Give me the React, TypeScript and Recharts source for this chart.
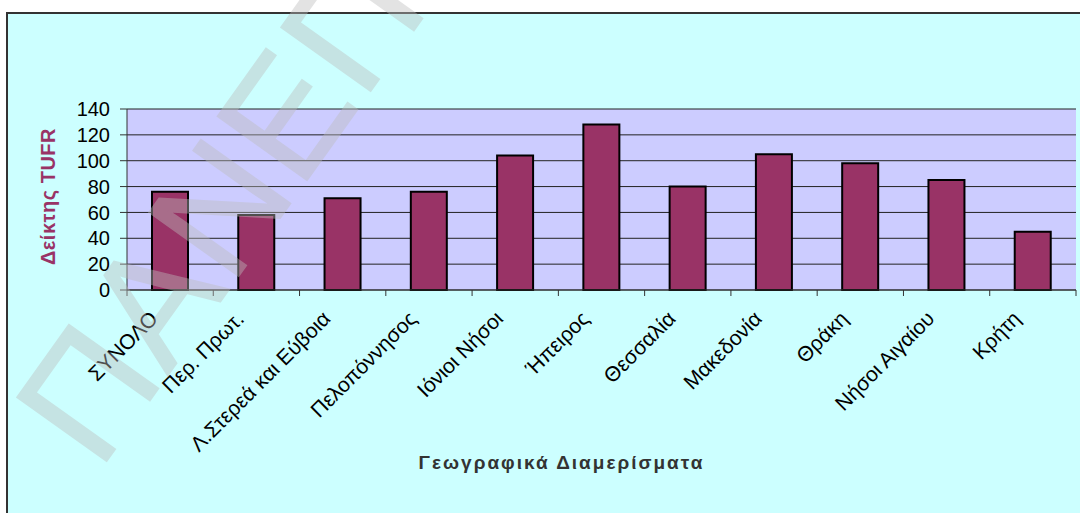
import { Bar, BarChart, CartesianGrid, XAxis, YAxis } from "recharts";

const categories = [
  "ΣΥΝΟΛΟ",
  "Περ. Πρωτ.",
  "Λ.Στερεά και Εύβοια",
  "Πελοπόννησος",
  "Ιόνιοι Νήσοι",
  "Ήπειρος",
  "Θεσσαλία",
  "Μακεδονία",
  "Θράκη",
  "Νήσοι Αιγαίου",
  "Κρήτη",
];
const tufr = [76, 58, 71, 76, 104, 128, 80, 105, 98, 85, 45];
const yTicks = [0, 20, 40, 60, 80, 100, 120, 140];

const xTitle = "Γεωγραφικά Διαμερίσματα";
const yTitle = "Δείκτης TUFR";
const watermark = "ΠΑΝΕΠΙΣΤΗΜΙΟ";

const FONT = "'Liberation Sans', Arial, sans-serif";
const BAR = "#993366";
const PLOT_BG = "#CCCCFF";
const CHART_BG = "#CCFFFF";

const data = categories.map((name, i) => ({ name, value: tufr[i] }));

function CategoryTick(props: any) {
  const { x, y, payload, index } = props;
  const half = payload?.offset ?? 949 / 22;
  return (
    <g>
      <line x1={x - half} x2={x - half} y1={y} y2={y + 6} stroke="#333" />
      {index === categories.length - 1 && (
        <line x1={x + half} x2={x + half} y1={y} y2={y + 6} stroke="#333" />
      )}
      <text
        transform={`translate(${x - 11},${y + 30}) rotate(-45)`}
        textAnchor="end"
        fontFamily={FONT}
        fontSize={21}
        fill="#000"
      >
        {payload.value}
      </text>
    </g>
  );
}

export default function App() {
  return (
    <div
      style={{
        position: "absolute",
        left: 0,
        top: 0,
        width: 1080,
        height: 513,
        background: "#fff",
        overflow: "hidden",
        fontFamily: FONT,
      }}
    >
      <div
        style={{
          position: "absolute",
          left: 6,
          top: 12,
          width: 1100,
          height: 520,
          border: "2px solid #333",
          background: CHART_BG,
        }}
      />
      <div style={{ position: "absolute", left: 0, top: 0 }}>
        <BarChart
          width={1080}
          height={513}
          data={data}
          margin={{ top: 109, right: 4, left: 67, bottom: 23 }}
        >
          <CartesianGrid
            vertical={false}
            stroke="#222"
            fill={PLOT_BG}
            fillOpacity={1}
          />
          <XAxis
            dataKey="name"
            height={200}
            interval={0}
            tickLine={false}
            tickSize={0}
            tickMargin={0}
            axisLine={{ stroke: "#333" }}
            tick={<CategoryTick />}
            label={{
              content: (p: any) => {
                const vb = p.viewBox;
                return (
                  <text
                    x={vb.x + vb.width / 2 - 40}
                    y={vb.y + 179}
                    textAnchor="middle"
                    fontFamily={FONT}
                    fontWeight="bold"
                    fontSize={19}
                    letterSpacing={2}
                    fill="#333"
                  >
                    {xTitle}
                  </text>
                );
              },
            }}
          />
          <YAxis
            domain={[0, 140]}
            ticks={yTicks}
            interval={0}
            width={60}
            tickSize={7}
            tickMargin={10}
            tickLine={{ stroke: "#333" }}
            axisLine={{ stroke: "#333" }}
            tick={{ fill: "#000", fontSize: 20, fontFamily: FONT }}
            label={{
              content: (p: any) => {
                const vb = p.viewBox;
                const cx = vb.x - 19;
                const cy = vb.y + vb.height / 2 - 3;
                return (
                  <text
                    x={cx}
                    y={cy}
                    transform={`rotate(-90, ${cx}, ${cy})`}
                    textAnchor="middle"
                    dominantBaseline="central"
                    fontFamily={FONT}
                    fontWeight="bold"
                    fontSize={20}
                    letterSpacing={0.5}
                    fill={BAR}
                  >
                    {yTitle}
                  </text>
                );
              },
            }}
          />
          <YAxis
            yAxisId="edge"
            orientation="right"
            width={0}
            tick={false}
            tickLine={false}
            axisLine={{ stroke: "#888" }}
          />
          <Bar
            dataKey="value"
            fill={BAR}
            stroke="#000"
            strokeWidth={2}
            barSize={36}
            isAnimationActive={false}
          />
        </BarChart>
      </div>
      <svg
        width={1080}
        height={513}
        style={{ position: "absolute", left: 0, top: 0, pointerEvents: "none" }}
      >
        <text
          transform="translate(99,472) rotate(-54.5)"
          fontFamily={FONT}
          fontSize={160}
          letterSpacing={2.5}
          fill="rgb(189,189,189)"
          stroke="rgb(189,189,189)"
          strokeWidth={1.5}
          opacity={0.42}
        >
          {watermark}
        </text>
      </svg>
    </div>
  );
}
